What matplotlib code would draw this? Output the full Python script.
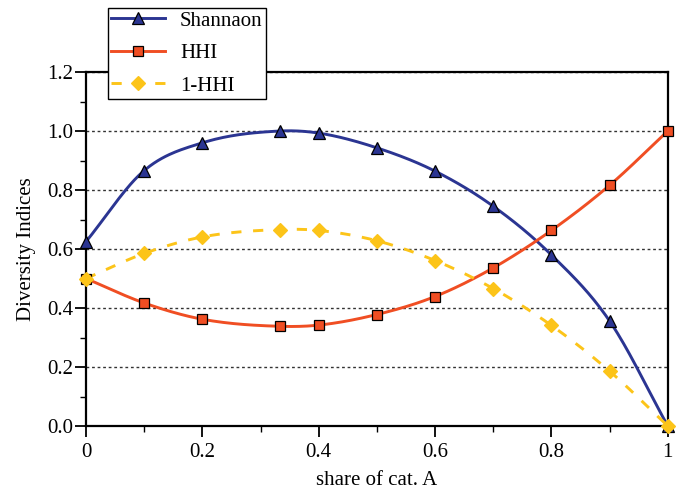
import numpy as np
import matplotlib
matplotlib.use("Agg")
import matplotlib.pyplot as plt
from matplotlib.ticker import MultipleLocator, FixedLocator

share = [0.0, 0.1, 0.2, 1/3, 0.4, 0.5, 0.6, 0.7, 0.8, 0.9, 1.0]
shannon = [0.625, 0.866, 0.96, 1.0, 0.993, 0.943, 0.864, 0.745, 0.58, 0.356, 0.0]
hhi = [0.5, 0.417, 0.362, 0.338, 0.342, 0.378, 0.439, 0.536, 0.663, 0.816, 1.0]
one_minus_hhi = [0.5, 0.585, 0.641, 0.666, 0.663, 0.628, 0.561, 0.466, 0.341, 0.186, 0.0]

labels = ["Shannaon", "HHI", "1-HHI"]
x_ticks = [0, 0.2, 0.4, 0.6, 0.8, 1.0]
x_ticklabels = ["0", "0.2", "0.4", "0.6", "0.8", "1"]
y_ticks = [0.0, 0.2, 0.4, 0.6, 0.8, 1.0, 1.2]
y_ticklabels = ["0.0", "0.2", "0.4", "0.6", "0.8", "1.0", "1.2"]

plt.rcParams['font.family'] = ['Liberation Serif', 'DejaVu Serif']


def smooth(x, y, n=30):
    """Cubic Hermite curve through the given points (drawing only)."""
    x = np.asarray(x, float)
    y = np.asarray(y, float)
    d = np.diff(y) / np.diff(x)
    m = np.empty_like(y)
    m[1:-1] = (d[:-1] + d[1:]) / 2
    m[0] = d[0]
    m[-1] = d[-1]
    xs, ys = [], []
    for i in range(len(x) - 1):
        h = x[i + 1] - x[i]
        t = np.linspace(0, 1, n, endpoint=(i == len(x) - 2))
        h00 = 2 * t**3 - 3 * t**2 + 1
        h10 = t**3 - 2 * t**2 + t
        h01 = -2 * t**3 + 3 * t**2
        h11 = t**3 - t**2
        xs.append(x[i] + t * h)
        ys.append(h00 * y[i] + h10 * h * m[i] + h01 * y[i + 1] + h11 * h * m[i + 1])
    return np.concatenate(xs), np.concatenate(ys)


fig = plt.figure(figsize=(6.8, 4.9), dpi=100)
ax = fig.add_axes([0.1265, 0.1306, 0.8555, 0.7224])

blue = '#2b3592'
red = '#f04e23'
yellow = '#fcc419'

series = [
    (shannon, blue, '-', '^', 'black', 8.5),
    (hhi, red, '-', 's', 'black', 7.5),
    (one_minus_hhi, yellow, (0, (3.5, 4)), 'D', yellow, 7),
]
handles = []
for (vals, col, ls, mk, mec, ms), lab in zip(series, labels):
    sx, sy = smooth(share, vals)
    ax.plot(sx, sy, color=col, lw=2.1, ls=ls, zorder=3, clip_on=False)
    ax.plot(share, vals, ls='none', marker=mk, ms=ms, mfc=col, mec=mec,
            mew=0.9, zorder=4, clip_on=False)
    h, = ax.plot([], [], color=col, lw=2.1, ls=ls, marker=mk, ms=ms,
                 mfc=col, mec=mec, mew=0.9, label=lab)
    handles.append(h)

ax.set_xlim(0, 1)
ax.set_ylim(0, 1.2)
ax.xaxis.set_major_locator(FixedLocator(x_ticks))
ax.set_xticklabels(x_ticklabels)
ax.xaxis.set_minor_locator(MultipleLocator(0.1))
ax.yaxis.set_major_locator(FixedLocator(y_ticks))
ax.set_yticklabels(y_ticklabels)
ax.yaxis.set_minor_locator(MultipleLocator(0.1))
ax.tick_params(which='major', direction='out', length=8, width=1.3, color='black')
ax.tick_params(which='minor', direction='out', length=4.5, width=1.0, color='black')
ax.tick_params(axis='both', labelsize=15)
ax.tick_params(axis='x', pad=4)
ax.tick_params(axis='y', pad=1)

ax.yaxis.grid(True, which='major', linestyle=(0, (2, 2)), color='#333333', lw=1.0)
ax.set_axisbelow(True)
for s in ax.spines.values():
    s.set_linewidth(1.6)
    s.set_color('black')

ax.set_xlabel('share of cat. A', fontsize=15, labelpad=7)
ax.set_ylabel('Diversity Indices', fontsize=15, labelpad=8)

leg = ax.legend(handles=handles, loc='upper left', bbox_to_anchor=(0.159, 0.984),
                bbox_transform=fig.transFigure, borderaxespad=0, frameon=True,
                fancybox=False, edgecolor='black', framealpha=1,
                handlelength=2.6, handletextpad=0.7, labelspacing=0.62,
                borderpad=0.15, fontsize=15)
leg.get_frame().set_linewidth(1.0)
leg.set_zorder(10)

fig.savefig('out.png', dpi=100)
